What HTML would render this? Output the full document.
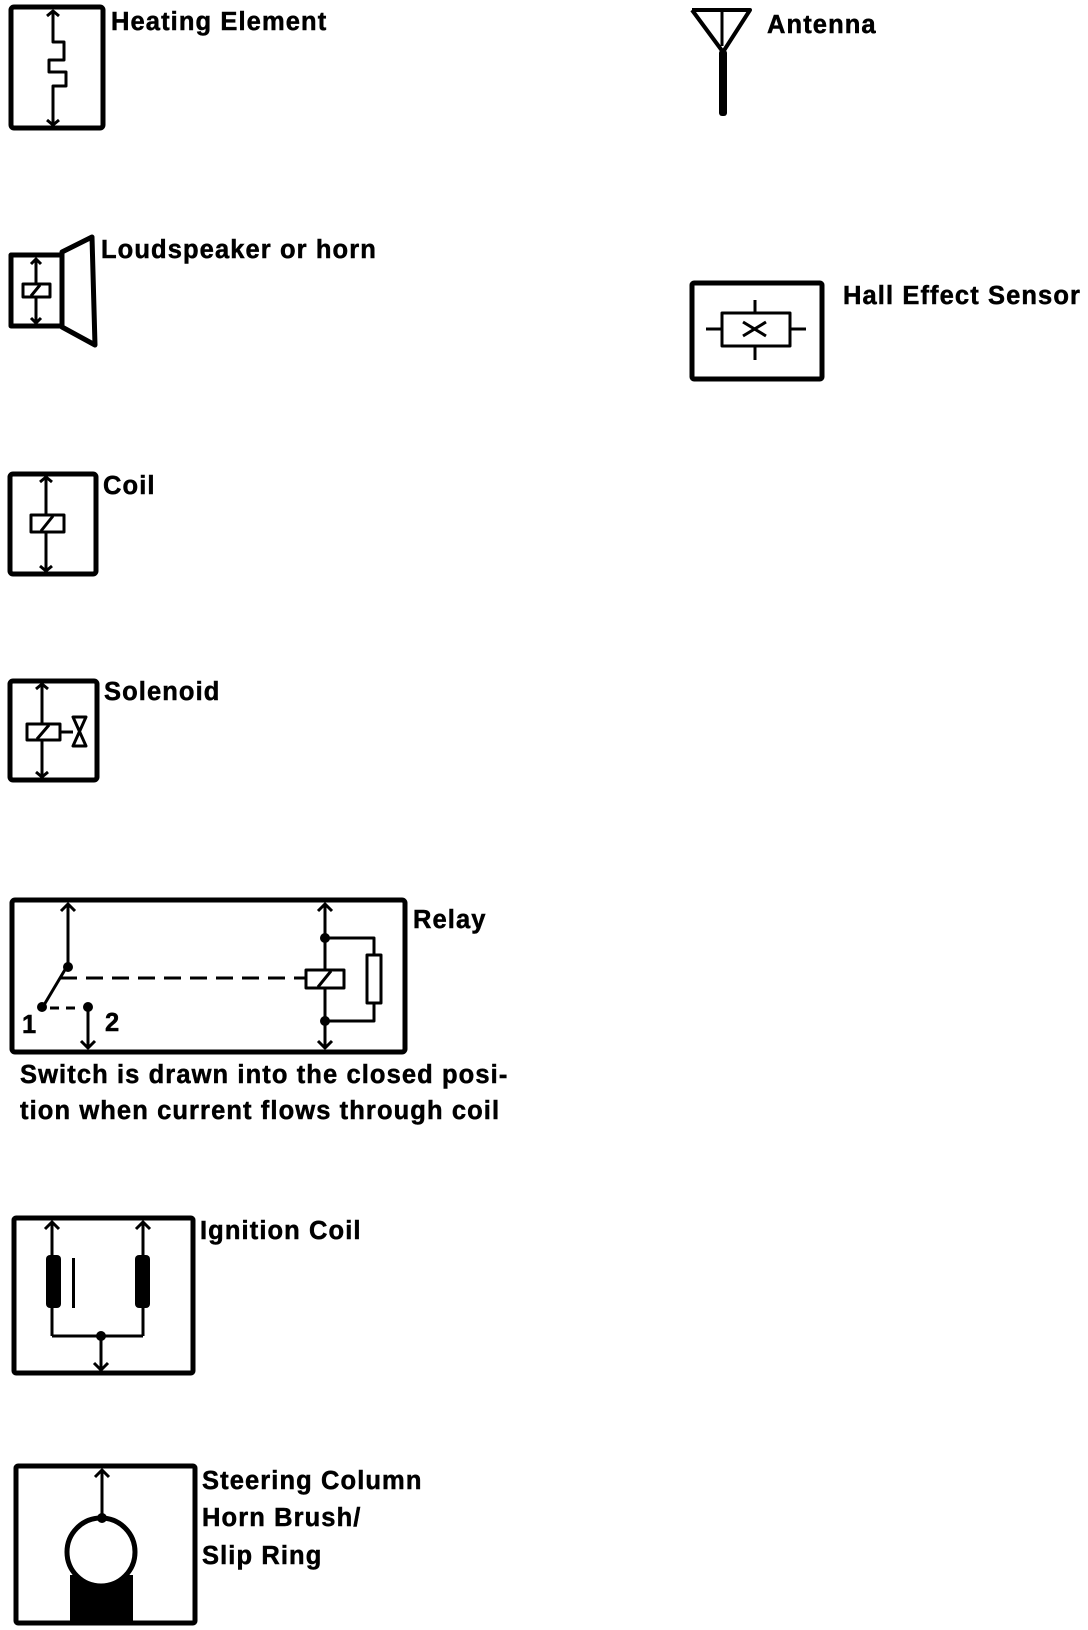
<!DOCTYPE html>
<html><head><meta charset="utf-8"><style>
html,body{margin:0;padding:0;background:#fff;}
svg{display:block}
text{font-family:"Liberation Sans",sans-serif;font-weight:bold;font-size:25.5px;letter-spacing:1.1px;fill:#000;stroke:#000;stroke-width:0.5px}
</style></head><body>
<svg width="1088" height="1630" viewBox="0 0 1088 1630" xmlns="http://www.w3.org/2000/svg">
<g fill="none" stroke="#000" stroke-width="3" stroke-linejoin="round">
<!-- Heating element -->
<rect x="11" y="7" width="92" height="121" rx="3" stroke-width="5"/>
<polyline points="53,11 53,42 64,42 64,60 49,60 49,72 66,72 66,86 53,86 53,125"/>
<polyline points="47,16 53,11 59,16"/><polyline points="47,120 53,125 59,120"/>
<!-- Loudspeaker -->
<rect x="11" y="255" width="51" height="71" stroke-width="5"/>
<polygon points="62,252 92,237 95,345 62,327" stroke-width="5"/>
<line x1="36" y1="259" x2="36" y2="323"/>
<polyline points="31,264 36,259 41,264"/><polyline points="31,318 36,323 41,318"/>
<rect x="23" y="284" width="27" height="13" fill="#fff" stroke-width="3"/><line x1="31" y1="296" x2="40" y2="285"/>
<!-- Coil -->
<rect x="10" y="474" width="86" height="100" rx="3" stroke-width="5"/>
<line x1="46" y1="477" x2="46" y2="571"/>
<polyline points="40,482 46,477 52,482"/><polyline points="40,566 46,571 52,566"/>
<rect x="31" y="515" width="33" height="17" fill="#fff" stroke-width="3"/><line x1="41" y1="531" x2="53" y2="516"/>
<!-- Solenoid -->
<rect x="10" y="681" width="87" height="99" rx="3" stroke-width="5"/>
<line x1="42" y1="684" x2="42" y2="777"/>
<polyline points="36,689 42,684 48,689"/><polyline points="36,772 42,777 48,772"/>
<rect x="27" y="724" width="33" height="16" fill="#fff" stroke-width="3"/><line x1="37" y1="739" x2="49" y2="725"/>
<line x1="60" y1="732" x2="73" y2="732"/>
<polygon points="73,717 86,717 73,746 86,746" stroke-width="3"/>
<!-- Relay -->
<rect x="12" y="900" width="393" height="152" rx="3" stroke-width="5"/>
<line x1="68" y1="904" x2="68" y2="965"/><polyline points="61,911 68,904 75,911"/>
<line x1="66" y1="968" x2="44" y2="1005"/>
<line x1="60" y1="978" x2="305" y2="978" stroke-dasharray="17,9" stroke-width="3"/>
<line x1="50" y1="1008" x2="82" y2="1008" stroke-dasharray="9,7" stroke-width="3"/>
<line x1="88" y1="1007" x2="88" y2="1048"/><polyline points="81,1041 88,1048 95,1041"/>
<line x1="325" y1="904" x2="325" y2="1048"/><polyline points="318,911 325,904 332,911"/><polyline points="318,1041 325,1048 332,1041"/>
<polyline points="325,938 374,938 374,1021 325,1021"/>
<rect x="367" y="955" width="14" height="48" fill="#fff" stroke-width="3"/>
<rect x="306" y="970" width="38" height="18" fill="#fff" stroke-width="3"/><line x1="318" y1="987" x2="331" y2="971"/>
<!-- Ignition coil -->
<rect x="14" y="1218" width="179" height="155" rx="2" stroke-width="5"/>
<line x1="52" y1="1222" x2="52" y2="1336"/><polyline points="45,1229 52,1222 59,1229"/>
<line x1="143" y1="1222" x2="143" y2="1336"/><polyline points="136,1229 143,1222 150,1229"/>
<line x1="52" y1="1336" x2="143" y2="1336"/>
<line x1="101" y1="1336" x2="101" y2="1370"/><polyline points="94,1363 101,1370 108,1363"/>
<!-- Steering -->
<rect x="16" y="1466" width="179" height="157" rx="2" stroke-width="5"/>
<line x1="102" y1="1470" x2="102" y2="1517"/><polyline points="95,1477 102,1470 109,1477"/>
<!-- Hall -->
<rect x="692" y="283" width="130" height="96" rx="2" stroke-width="5"/>
<rect x="722" y="313" width="68" height="33" stroke-width="3"/>
<line x1="706" y1="329" x2="722" y2="329"/><line x1="790" y1="329" x2="806" y2="329"/>
<line x1="755" y1="300" x2="755" y2="313"/><line x1="755" y1="346" x2="755" y2="360"/>
<line x1="743" y1="322" x2="766" y2="336"/><line x1="743" y1="336" x2="766" y2="322"/>
<!-- Antenna -->
<polyline points="692,10 750,10 723,52 692,10" stroke-width="4"/>
<line x1="722" y1="10" x2="722" y2="46"/>
</g>
<g fill="#000">
<circle cx="68" cy="967" r="5"/><circle cx="42" cy="1007" r="5"/><circle cx="88" cy="1007" r="5"/>
<circle cx="325" cy="938" r="5"/><circle cx="325" cy="1021" r="5"/>
<rect x="46" y="1255" width="15" height="53" rx="4"/><rect x="135" y="1255" width="15" height="53" rx="4"/>
<rect x="72" y="1258" width="3" height="50"/>
<circle cx="101" cy="1336" r="5"/>
<rect x="70" y="1575" width="63" height="48"/>
<rect x="719" y="50" width="8" height="66" rx="3"/>
</g>
<circle cx="101" cy="1552" r="34" fill="#fff" stroke="#000" stroke-width="5"/>
<circle cx="102" cy="1518" r="5" fill="#000"/>
<text x="111" y="30">Heating Element</text>
<text x="101" y="258">Loudspeaker or horn</text>
<text x="103" y="494">Coil</text>
<text x="104" y="700">Solenoid</text>
<text x="413" y="928">Relay</text>
<text x="22" y="1033">1</text>
<text x="105" y="1031">2</text>
<text x="20" y="1083">Switch is drawn into the closed posi-</text>
<text x="20" y="1119">tion when current flows through coil</text>
<text x="200" y="1239">Ignition Coil</text>
<text x="202" y="1489">Steering Column</text>
<text x="202" y="1526">Horn Brush/</text>
<text x="202" y="1564">Slip Ring</text>
<text x="767" y="33">Antenna</text>
<text x="843" y="304">Hall Effect Sensor</text>
</svg>
</body></html>
